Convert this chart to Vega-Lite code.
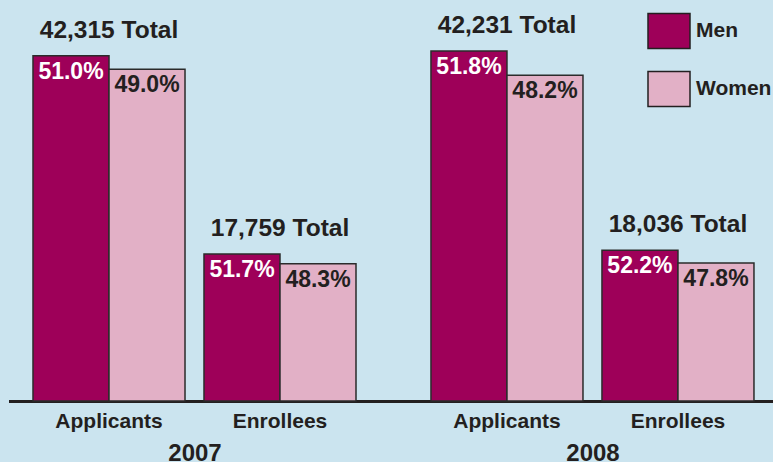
{
  "$schema": "https://vega.github.io/schema/vega-lite/v6.json",
  "background": "#cbe4ef",
  "padding": {"left": 10, "top": 1, "right": 0, "bottom": 0},
  "spacing": 0,
  "data": {"values": [
    {"year": 2007, "group": "Applicants", "sex": "Men", "count": 21581, "pct": 0.510, "totalLabel": "42,315 Total"},
    {"year": 2007, "group": "Applicants", "sex": "Women", "count": 20734, "pct": 0.490, "totalLabel": "42,315 Total"},
    {"year": 2007, "group": "Enrollees", "sex": "Men", "count": 9181, "pct": 0.517, "totalLabel": "17,759 Total"},
    {"year": 2007, "group": "Enrollees", "sex": "Women", "count": 8578, "pct": 0.483, "totalLabel": "17,759 Total"},
    {"year": 2008, "group": "Applicants", "sex": "Men", "count": 21876, "pct": 0.518, "totalLabel": "42,231 Total"},
    {"year": 2008, "group": "Applicants", "sex": "Women", "count": 20355, "pct": 0.482, "totalLabel": "42,231 Total"},
    {"year": 2008, "group": "Enrollees", "sex": "Men", "count": 9415, "pct": 0.522, "totalLabel": "18,036 Total"},
    {"year": 2008, "group": "Enrollees", "sex": "Women", "count": 8621, "pct": 0.478, "totalLabel": "18,036 Total"}
  ]},
  "hconcat": [
    {
      "width": 369, "height": 400,
      "transform": [{"filter": "datum.year === 2007"}],
      "encoding": {
        "x": {"field": "group", "type": "nominal", "sort": ["Applicants", "Enrollees"],
              "scale": {"paddingInner": 0.111, "paddingOuter": 0.1345, "align": 0.5},
              "axis": {"title": "2007"}},
        "y": {"field": "count", "type": "quantitative", "scale": {"domain": [0, 25000]}, "axis": null}
      },
      "layer": [
        {"mark": {"type": "bar", "stroke": "#2b2b2b", "strokeWidth": 1.5},
         "encoding": {
           "xOffset": {"field": "sex", "type": "nominal", "sort": ["Men", "Women"], "scale": {"paddingInner": 0, "paddingOuter": 0}},
           "color": {"field": "sex", "type": "nominal", "sort": ["Men", "Women"],
                     "scale": {"domain": ["Men", "Women"], "range": ["#9e0059", "#e2b0c6"]},
                     "legend": {"title": null, "orient": "none", "legendX": 637, "legendY": 8}}
         }},
        {"mark": {"type": "text", "baseline": "alphabetic", "dy": 23, "fontSize": 23, "fontWeight": "bold"},
         "encoding": {
           "xOffset": {"field": "sex", "type": "nominal", "sort": ["Men", "Women"], "scale": {"paddingInner": 0, "paddingOuter": 0}},
           "text": {"field": "pct", "type": "quantitative", "format": ".1%"},
           "color": {"condition": {"test": "datum.sex === 'Men'", "value": "#ffffff"}, "value": "#231f20"}
         }},
        {"transform": [{"filter": "datum.sex === 'Men'"}],
         "mark": {"type": "text", "baseline": "alphabetic", "dy": -18, "fontSize": 24.5, "fontWeight": "bold", "color": "#231f20"},
         "encoding": {"text": {"field": "totalLabel", "type": "nominal"}}}
      ]
    },
    {
      "width": 394, "height": 400,
      "transform": [{"filter": "datum.year === 2008"}],
      "encoding": {
        "x": {"field": "group", "type": "nominal", "sort": ["Applicants", "Enrollees"],
              "scale": {"paddingInner": 0.111, "paddingOuter": 0.2076, "align": 0.732},
              "axis": {"title": "2008", "titleX": 213.5}},
        "y": {"field": "count", "type": "quantitative", "scale": {"domain": [0, 25000]}, "axis": null}
      },
      "layer": [
        {"mark": {"type": "bar", "stroke": "#2b2b2b", "strokeWidth": 1.5},
         "encoding": {
           "xOffset": {"field": "sex", "type": "nominal", "sort": ["Men", "Women"], "scale": {"paddingInner": 0, "paddingOuter": 0}},
           "color": {"field": "sex", "type": "nominal", "sort": ["Men", "Women"]}
         }},
        {"mark": {"type": "text", "baseline": "alphabetic", "dy": 23, "fontSize": 23, "fontWeight": "bold"},
         "encoding": {
           "xOffset": {"field": "sex", "type": "nominal", "sort": ["Men", "Women"], "scale": {"paddingInner": 0, "paddingOuter": 0}},
           "text": {"field": "pct", "type": "quantitative", "format": ".1%"},
           "color": {"condition": {"test": "datum.sex === 'Men'", "value": "#ffffff"}, "value": "#231f20"}
         }},
        {"transform": [{"filter": "datum.sex === 'Men'"}],
         "mark": {"type": "text", "baseline": "alphabetic", "dy": -18, "fontSize": 24.5, "fontWeight": "bold", "color": "#231f20"},
         "encoding": {"text": {"field": "totalLabel", "type": "nominal"}}}
      ]
    }
  ],
  "config": {
    "font": "Liberation Sans, Arial, sans-serif",
    "view": {"stroke": null},
    "concat": {"spacing": 0},
    "axisX": {
      "domainColor": "#231f20", "domainWidth": 3, "domainCap": "square", "ticks": false, "grid": false,
      "labelAngle": 0, "labelFontSize": 21, "labelFontWeight": "bold", "labelColor": "#231f20", "labelPadding": 9,
      "titleFontSize": 24, "titleFontWeight": "bold", "titleColor": "#231f20", "titlePadding": 10
    },
    "legend": {
      "padding": 0, "symbolType": "M-1,-0.833H1V0.833H-1Z", "symbolSize": 1764,
      "symbolStrokeColor": "#231f20", "symbolStrokeWidth": 1.5, "symbolOpacity": 1,
      "labelFontSize": 21, "labelFontWeight": "bold", "labelColor": "#231f20", "labelOffset": 5,
      "rowPadding": 15
    }
  }
}
